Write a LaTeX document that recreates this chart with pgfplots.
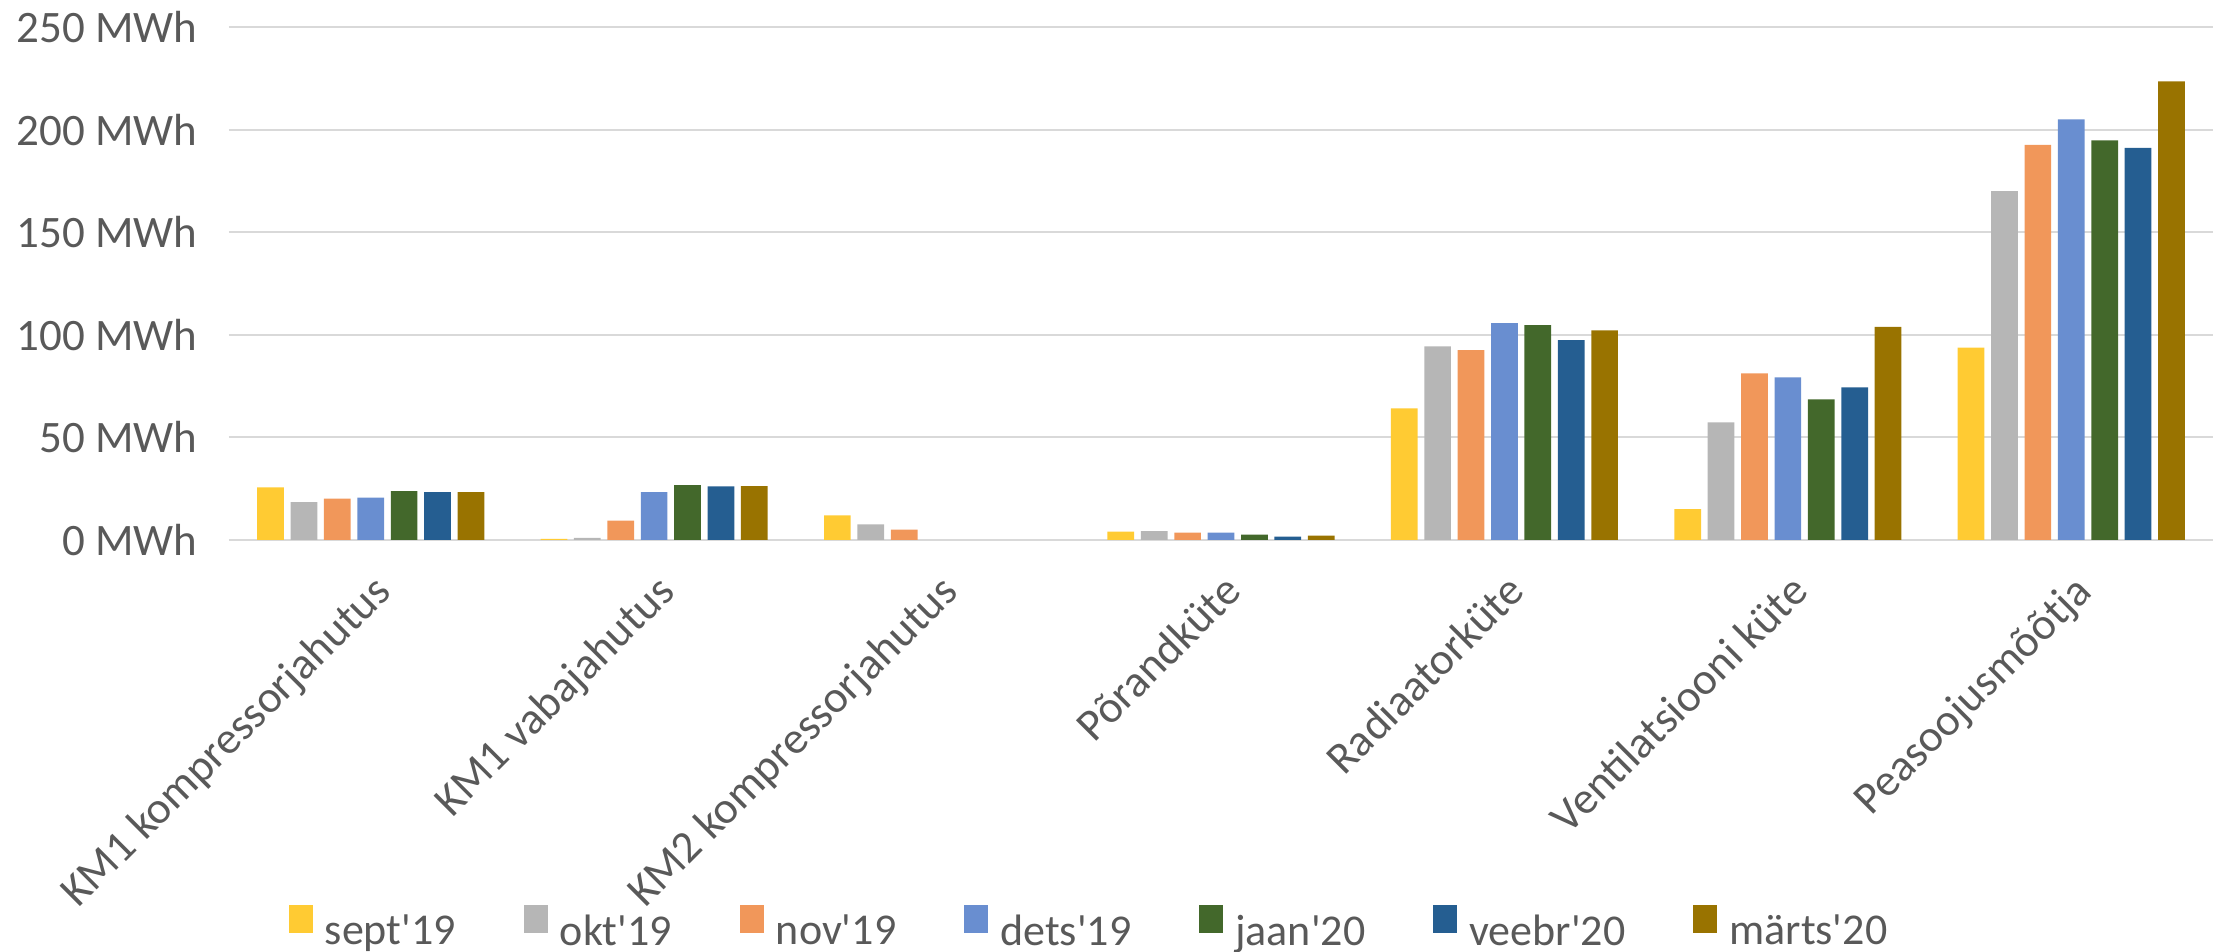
\documentclass[border=0pt]{standalone}
\usepackage{fontspec}
\setmainfont{Carlito}
\usepackage{pgfplots}
\pgfplotsset{compat=1.18}
\definecolor{txt}{HTML}{595959}
\definecolor{grd}{HTML}{D9D9D9}
\definecolor{c1}{HTML}{FFCB33}
\definecolor{c2}{HTML}{B6B6B6}
\definecolor{c3}{HTML}{F1975A}
\definecolor{c4}{HTML}{698ED0}
\definecolor{c5}{HTML}{43682B}
\definecolor{c6}{HTML}{255E91}
\definecolor{c7}{HTML}{997300}
\begin{document}
\begin{tikzpicture}
\path[use as bounding box] (0,0) rectangle (1110.5pt,476pt);
\begin{axis}[
  at={(114.5pt,206pt)}, anchor=south west,
  scale only axis, width=992pt, height=256.5pt,
  xmin=-0.5, xmax=6.5, ymin=0, ymax=250,
  ybar=3.35pt, bar width=13.35pt,
  xtick={0,...,6},
  xticklabels={KM1 kompressorjahutus, KM1 vabajahutus, KM2 kompressorjahutus, Põrandküte, Radiaatorküte, Ventilatsiooni küte, Peasoojusmõõtja},
  ytick={0,50,...,250},
  yticklabels={0 MWh, 50 MWh, 100 MWh, 150 MWh, 200 MWh, 250 MWh},
  major tick length=0pt,
  ymajorgrids, grid style={draw=grd, line width=1pt},
  axis x line*=bottom, axis y line*=left,
  x axis line style={draw=grd, line width=1.2pt, -},
  y axis line style={draw=none},
  tick label style={font=\fontsize{22.5}{27}\selectfont, text=txt},
  yticklabel style={anchor=east, inner sep=0pt, xshift=-15.5pt},
  xticklabel style={rotate=45, anchor=base east, inner sep=0pt, xshift=-11pt, yshift=-27pt},
  legend columns=7,
  legend style={draw=none, fill=none, at={(0.433,-0.758)}, anchor=center,
    font=\fontsize{22}{26}\selectfont, text=txt,
    nodes={inner xsep=0pt},
    /tikz/every odd column/.append style={column sep=6pt},
    /tikz/every even column/.append style={column sep=34pt}},
  legend image code/.code={\fill[#1] (0pt,-1pt) rectangle (12pt,13pt);},
  every axis plot/.append style={draw=none},
]
\addplot[fill=c1] coordinates {(0,25.6) (1,0.5) (2,12.0) (3,4.1) (4,64.1) (5,15.0) (6,93.8)};
\addplot[fill=c2] coordinates {(0,18.4) (1,1.0) (2,7.6) (3,4.3) (4,94.4) (5,57.3) (6,170.0)};
\addplot[fill=c3] coordinates {(0,20.2) (1,9.5) (2,5.1) (3,3.6) (4,92.5) (5,81.2) (6,192.5)};
\addplot[fill=c4] coordinates {(0,20.7) (1,23.3) (3,3.6) (4,105.7) (5,79.3) (6,205.0)};
\addplot[fill=c5] coordinates {(0,23.8) (1,26.8) (3,2.6) (4,104.7) (5,68.5) (6,194.8)};
\addplot[fill=c6] coordinates {(0,23.3) (1,26.1) (3,1.6) (4,97.4) (5,74.4) (6,191.1)};
\addplot[fill=c7] coordinates {(0,23.3) (1,26.3) (3,2.1) (4,102.1) (5,103.8) (6,223.5)};
\legend{sept\textquotesingle 19, okt\textquotesingle 19, nov\textquotesingle 19, dets\textquotesingle 19, jaan\textquotesingle 20, veebr\textquotesingle 20, märts\textquotesingle 20}
\end{axis}
\end{tikzpicture}
\end{document}
